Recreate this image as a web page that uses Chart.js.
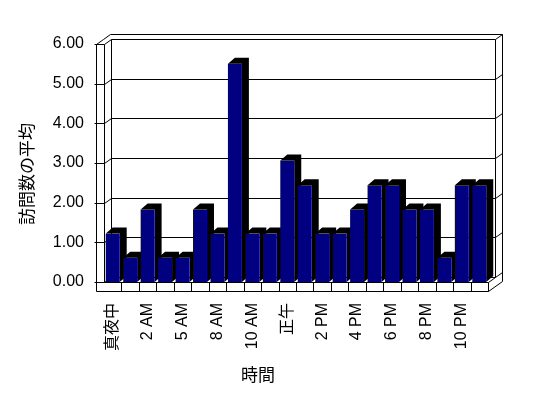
<!DOCTYPE html>
<html>
  <head>
    <meta charset="utf-8">
    <title>訪問数の平均</title>
    <script src="https://cdn.jsdelivr.net/npm/chart.js@4.4.0/dist/chart.umd.min.js"></script>
    <style>
      body { margin: 0; background: #fff; }
      canvas { display: block; }
    </style>
  </head>

  <body>
    <canvas id="canvas" width="548" height="398"></canvas>
    <script>
      // hours on the category axis (only every second one is labelled)
      var hourLabels = ['真夜中', '1 AM', '2 AM', '4 AM', '5 AM', '7 AM', '8 AM', '9 AM', '10 AM', '11 AM', '正午',
        '1 PM', '2 PM', '3 PM', '4 PM', '5 PM', '6 PM', '7 PM', '8 PM', '9 PM', '10 PM', '11 PM'];
      var avgVisits = [1.22, 0.61, 1.83, 0.61, 0.61, 1.83, 1.22, 5.5, 1.22, 1.22, 3.06,
        2.44, 1.22, 1.22, 1.83, 2.44, 2.44, 1.83, 1.83, 0.61, 2.44, 2.44];
      var yTitle = '訪問数の平均';
      var xTitle = '時間';

      var FONT = "'Liberation Sans', 'Noto Sans CJK JP', sans-serif";
      var WX = 7, WY = -5;   // wall depth
      var BX = 7, BY = -6;   // bar depth

      function line(ctx, x1, y1, x2, y2) {
        ctx.beginPath();
        ctx.moveTo(x1, y1);
        ctx.lineTo(x2, y2);
        ctx.stroke();
      }

      // walls, floor and the dark top/side faces of each column
      var box3d = {
        id: 'box3d',
        beforeDatasetsDraw: function (chart) {
          var ctx = chart.ctx;
          var xs = chart.scales.x, ys = chart.scales.y;
          var L = Math.round(xs.left) + 0.5, R = Math.round(xs.right) + 0.5;
          var B = Math.round(ys.getPixelForValue(0)) + 0.5;
          var T = Math.round(ys.getPixelForValue(ys.max)) + 0.5;
          var p = (xs.right - xs.left) / hourLabels.length;

          ctx.save();
          ctx.strokeStyle = '#000';
          ctx.lineWidth = 1;

          // back wall
          line(ctx, L + WX, T + WY, R + WX, T + WY);
          line(ctx, L - 8 + 2 * WX, T + 2 * WY, R + 2 * WX, T + 2 * WY);
          line(ctx, R + WX, T + WY, R + WX, B + WY);
          line(ctx, R + 2 * WX, T + 2 * WY, R + 2 * WX, B + 9 + 2 * WY);
          line(ctx, R + WX, T + WY, R + 2 * WX, T + 2 * WY);
          line(ctx, L + WX, T + WY, L + WX, B + WY);

          // left wall
          line(ctx, L - 8, T, L - 8, B + 9);
          line(ctx, L, T, L, B);
          line(ctx, L - 8, T, L - 8 + WX, T + WY);
          line(ctx, L - 8 + WX, T + WY, L - 8 + 2 * WX, T + 2 * WY);
          line(ctx, L, T, L + WX, T + WY);

          // gridlines and ticks
          ys.ticks.forEach(function (t) {
            var y = Math.round(ys.getPixelForValue(t.value)) + 0.5;
            line(ctx, L - 10, y, L, y);
            if (t.value < ys.max) {
              line(ctx, L, y, L + WX, y + WY);
              line(ctx, L + WX, y + WY, R + WX, y + WY);
              line(ctx, R + WX, y + WY, R + 2 * WX, y + 2 * WY);
            }
          });

          // floor
          line(ctx, L, B, R, B);
          line(ctx, L - 8, B + 9, R, B + 9);
          for (var i = 1; i <= hourLabels.length; i++) {
            var x = Math.round(xs.left + i * p) + 0.5;
            line(ctx, x, B, x, B + 9);
          }
          line(ctx, R, B + 9, R + 2 * WX, B + 9 + 2 * WY);
          line(ctx, R, B, R + WX, B + WY);

          // column depth faces
          ctx.fillStyle = '#000';
          chart.getDatasetMeta(0).data.forEach(function (bar) {
            var x0 = bar.x - bar.width / 2, x1 = bar.x + bar.width / 2;
            var top = bar.y, bottom = bar.base;
            ctx.beginPath();
            ctx.moveTo(x0, top);
            ctx.lineTo(x0 + BX, top + BY);
            ctx.lineTo(x1 + BX, top + BY);
            ctx.lineTo(x1 + BX, bottom + BY);
            ctx.lineTo(x1, bottom);
            ctx.lineTo(x1, top);
            ctx.closePath();
            ctx.fill();
          });
          ctx.restore();
        },
        afterDraw: function (chart) {
          var ctx = chart.ctx;
          ctx.save();
          ctx.fillStyle = '#000';
          ctx.font = "17px 'Noto Sans CJK JP', sans-serif";
          ctx.textAlign = 'center';
          ctx.textBaseline = 'middle';
          ctx.fillText(xTitle, 258, 375);
          ctx.translate(27, 174);
          ctx.rotate(-Math.PI / 2);
          ctx.fillText(yTitle, 0, 0);
          ctx.restore();
        },
      };

      var ctx = document.getElementById('canvas').getContext('2d');
      window.myBar = new Chart(ctx, {
        type: 'bar',
        data: {
          labels: hourLabels,
          datasets: [
            {
              label: yTitle,
              data: avgVisits,
              backgroundColor: '#000080',
              borderWidth: 0,
              barPercentage: 0.8,
              categoryPercentage: 1,
            },
          ],
        },
        options: {
          responsive: false,
          animation: false,
          layout: { padding: { left: 0, right: 60, top: 44, bottom: 0 } },
          plugins: {
            legend: { display: false },
            tooltip: { enabled: false },
          },
          scales: {
            x: {
              grid: { display: false, drawTicks: false },
              border: { display: false },
              ticks: {
                autoSkip: false,
                minRotation: 90,
                maxRotation: 90,
                padding: 21,
                color: '#000',
                font: { family: FONT, size: 16 },
                callback: function (v, i) {
                  return i % 2 === 0 ? hourLabels[i] : '';
                },
              },
              afterFit: function (scale) {
                scale.height = 116;
              },
            },
            y: {
              min: 0,
              max: 6,
              grid: { display: false, drawTicks: false },
              border: { display: false },
              ticks: {
                stepSize: 1,
                padding: 20,
                color: '#000',
                font: { family: FONT, size: 16 },
                callback: function (v) {
                  return v.toFixed(2);
                },
              },
              afterFit: function (scale) {
                scale.width = 104;
              },
            },
          },
        },
        plugins: [box3d],
      });
    </script>
  </body>
</html>
